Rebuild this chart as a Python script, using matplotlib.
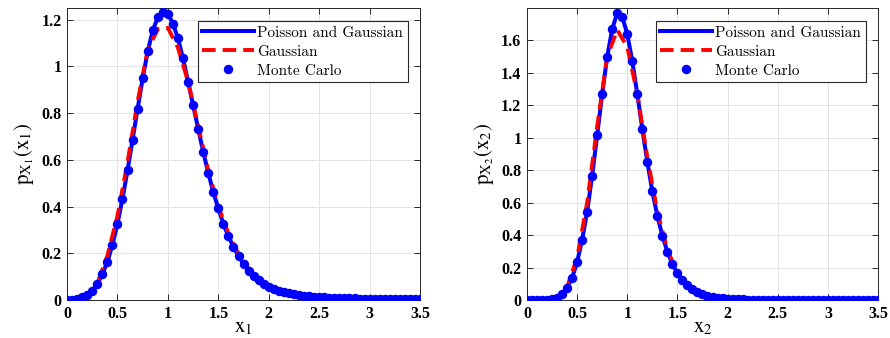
import numpy as np
import matplotlib.pyplot as plt
from matplotlib.font_manager import FontProperties

plt.rcParams['mathtext.fontset'] = 'stix'
plt.rcParams['font.family'] = ['Liberation Serif', 'DejaVu Serif']

# grids (Monte Carlo every 0.05, Gaussian every 0.1)
x_fine = np.arange(71) * 0.05
x_coarse = np.arange(36) * 0.1

# panel 1: x1
p1_mc = [0.001, 0.002, 0.005, 0.011, 0.022, 0.039, 0.067, 0.110, 0.162, 0.237,
         0.326, 0.434, 0.555, 0.687, 0.819, 0.949, 1.064, 1.154, 1.210, 1.235,
         1.226, 1.183, 1.120, 1.034, 0.935, 0.834, 0.734, 0.634, 0.545, 0.461,
         0.392, 0.326, 0.273, 0.227, 0.189, 0.154, 0.126, 0.104, 0.085, 0.068,
         0.056, 0.047, 0.040, 0.034, 0.029, 0.025, 0.021, 0.018, 0.016, 0.014,
         0.012, 0.011, 0.010, 0.009, 0.008, 0.0075, 0.007, 0.0065, 0.006, 0.0055,
         0.005, 0.0047, 0.0044, 0.0041, 0.0038, 0.0036, 0.0034, 0.0032, 0.003, 0.0028,
         0.0026]
p1_gauss = [0.0, 0.0, 0.008, 0.07, 0.19, 0.36, 0.59, 0.85, 1.07, 1.16,
            1.165, 1.08, 0.935, 0.745, 0.555, 0.400, 0.285, 0.198, 0.135, 0.085,
            0.052, 0.032, 0.019, 0.011, 0.006, 0.003, 0.002, 0.002, 0.001, 0.001,
            0.001, 0.001, 0.001, 0.001, 0.001, 0.001]

# panel 2: x2
p2_mc = [0.000, 0.000, 0.000, 0.001, 0.002, 0.006, 0.015, 0.037, 0.076, 0.136,
         0.234, 0.370, 0.545, 0.767, 1.016, 1.270, 1.500, 1.670, 1.770, 1.745,
         1.640, 1.472, 1.270, 1.055, 0.852, 0.669, 0.519, 0.397, 0.297, 0.222,
         0.165, 0.124, 0.090, 0.066, 0.048, 0.035, 0.026, 0.019, 0.014, 0.011,
         0.008, 0.006, 0.005, 0.004, 0.003, 0.0025, 0.002, 0.002, 0.0018, 0.0016,
         0.0015, 0.0014, 0.0013, 0.0012, 0.0012, 0.0011, 0.0011, 0.001, 0.001, 0.001,
         0.001, 0.001, 0.001, 0.001, 0.001, 0.001, 0.001, 0.001, 0.001, 0.001,
         0.001]
p2_gauss = [0.0, 0.0, 0.0, 0.01, 0.08, 0.26, 0.60, 1.07, 1.50, 1.665,
            1.56, 1.27, 0.88, 0.545, 0.31, 0.165, 0.085, 0.042, 0.02, 0.009,
            0.004, 0.002, 0.001, 0.001, 0.0, 0.0, 0.0, 0.0, 0.0, 0.0,
            0.0, 0.0, 0.0, 0.0, 0.0, 0.0]

xticks = [0, 0.5, 1, 1.5, 2, 2.5, 3, 3.5]
xtick_labels = ['0', '0.5', '1', '1.5', '2', '2.5', '3', '3.5']

panels = [
    (p1_mc, p1_gauss, 1.25, [0, 0.2, 0.4, 0.6, 0.8, 1, 1.2],
     ['0', '0.2', '0.4', '0.6', '0.8', '1', '1.2'], '1'),
    (p2_mc, p2_gauss, 1.8, [0, 0.2, 0.4, 0.6, 0.8, 1, 1.2, 1.4, 1.6],
     ['0', '0.2', '0.4', '0.6', '0.8', '1', '1.2', '1.4', '1.6'], '2'),
]

fig = plt.figure(figsize=(8.9, 3.38), dpi=100)
boxes = [[0.0753, 0.1124, 0.3967, 0.8639], [0.5921, 0.1124, 0.3944, 0.8639]]
leg_font = FontProperties(family='cmr10', size=11)

for box, (mc, ga, ytop, yt, ytl, idx) in zip(boxes, panels):
    ax = fig.add_axes(box)
    ax.plot(x_fine, mc, '-', color='#0000ff', lw=2.9, label='Poisson and Gaussian', zorder=3)
    ax.plot(x_coarse, ga, '--', color='#ff0000', lw=2.8, dashes=(3.5, 1.8),
            label='Gaussian', zorder=4)
    ax.plot(x_fine, mc, 'o', color='#0000ff', ms=5.8, mec='#0000ff',
            label='Monte Carlo', zorder=5)
    ax.set_xlim(0, 3.5)
    ax.set_ylim(0, ytop)
    ax.set_xticks(xticks)
    ax.set_xticklabels(xtick_labels, fontweight='bold', fontsize=11.5)
    ax.set_yticks(yt)
    ax.set_yticklabels(ytl, fontweight='bold', fontsize=11.5)
    ax.tick_params(direction='in', length=4, width=0.7, top=True, right=True,
                   color='#262626', pad=4)
    for s in ax.spines.values():
        s.set_color('#262626')
        s.set_linewidth(0.7)
    ax.grid(True, color='#e3e3e3', lw=0.7)
    ax.set_axisbelow(True)
    ax.set_xlabel(r'$\mathrm{x}_{%s}$' % idx, fontsize=15, labelpad=-2)
    ax.set_ylabel(r'$\mathrm{p}_{\mathrm{X}_{%s}}(\mathrm{x}_{%s})$' % (idx, idx),
                  fontsize=15, labelpad=4)
    leg = ax.legend(loc='upper right', bbox_to_anchor=(0.965, 0.954), prop=leg_font,
                    fancybox=False, framealpha=1, edgecolor='#262626',
                    handlelength=3.4, handletextpad=0.2, borderpad=0.3,
                    labelspacing=0.34, borderaxespad=0)
    leg.get_frame().set_linewidth(0.8)

fig.savefig('out.png', dpi=100)
